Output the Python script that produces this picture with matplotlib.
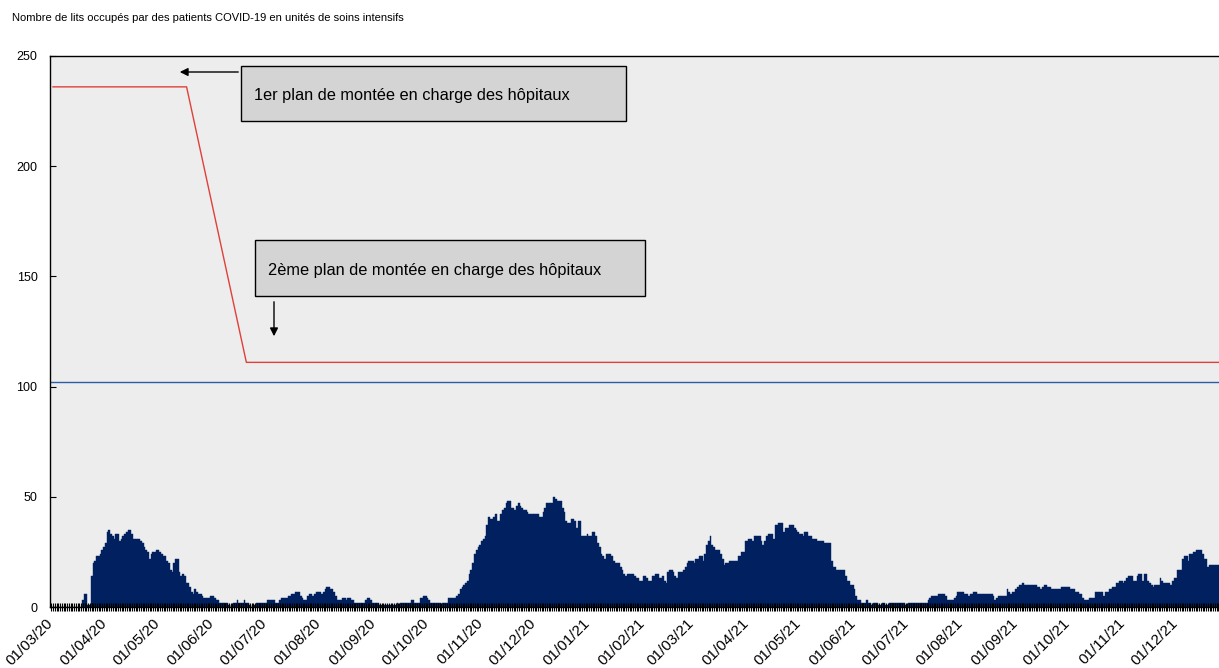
import numpy as np
import pandas as pd
import matplotlib
matplotlib.use("Agg")
import matplotlib.pyplot as plt
import matplotlib.dates as mdates
from matplotlib.patches import Rectangle, FancyArrowPatch

plt.rcParams['font.family'] = ['Liberation Sans', 'DejaVu Sans']

# Lits occupés en soins intensifs, valeurs journalières depuis le 01/03/2020
start = '2020-03-01'
beds_2020 = [
    0, 0, 0, 0, 0, 0, 0, 0, 0, 0, 0, 0, 0, 0, 0, 0, 0, 3, 6, 6, 1, 1,
    14, 20, 21, 23, 23, 24, 26, 27, 29,                                   # mars
    34, 35, 33, 32, 31, 33, 33, 30, 31, 32, 33, 34, 35, 35, 33, 31, 31,
    31, 31, 30, 29, 27, 26, 25, 22, 24, 25, 25, 26, 26,                   # avril
    25, 24, 23, 23, 21, 20, 17, 16, 20, 22, 22, 16, 14, 15, 14, 11, 11,
    9, 7, 6, 8, 7, 6, 6, 5, 4, 4, 4, 4, 5, 5,                             # mai
    4, 3, 3, 2, 2, 2, 2, 2, 1, 0, 1, 2, 2, 3, 2, 2, 2, 3, 2, 2, 1, 0, 0,
    1, 2, 2, 2, 2, 2, 2,                                                  # juin
    3, 3, 3, 3, 3, 2, 2, 3, 4, 4, 4, 4, 5, 5, 6, 6, 7, 7, 7, 5, 4, 3, 3,
    5, 6, 6, 5, 6, 7, 7, 7,                                               # juillet
    6, 7, 8, 9, 9, 8, 8, 7, 5, 3, 3, 3, 4, 4, 3, 4, 4, 3, 3, 2, 2, 2, 2,
    2, 2, 3, 4, 4, 3, 2, 2,                                               # août
    2, 2, 1, 1, 1, 1, 1, 1, 1, 1, 1, 1, 2, 1, 2, 2, 2, 2, 2, 2, 3, 3, 2,
    2, 2, 4, 4, 5, 5, 4,                                                  # septembre
    3, 2, 2, 2, 2, 2, 2, 1, 2, 2, 2, 4, 4, 4, 4, 4, 5, 6, 8, 9, 10, 11,
    12, 15, 17, 20, 24, 26, 27, 28, 30,                                   # octobre
    31, 32, 37, 41, 40, 40, 41, 42, 39, 39, 42, 44, 45, 47, 48, 48, 45,
    45, 44, 46, 47, 46, 45, 44, 44, 43, 42, 42, 42, 42,                   # novembre
    42, 42, 41, 41, 43, 45, 47, 47, 47, 47, 50, 49, 48, 48, 48, 45, 43,
    39, 38, 38, 40, 40, 39, 36, 39, 39, 32, 32, 32, 33, 32,               # décembre
]
beds_2021 = [
    32, 34, 34, 32, 29, 27, 24, 23, 22, 24, 24, 24, 23, 21, 20, 20, 20,
    18, 17, 15, 14, 15, 15, 15, 15, 14, 13, 13, 12, 12, 14,               # janvier
    14, 13, 12, 12, 14, 14, 15, 15, 13, 13, 14, 12, 11, 16, 17, 17, 16,
    14, 13, 16, 16, 16, 17, 18, 20, 21, 21, 21,                           # février
    20, 22, 22, 23, 23, 21, 24, 28, 30, 32, 28, 27, 26, 26, 26, 24, 22,
    19, 20, 20, 21, 21, 21, 21, 21, 23, 23, 25, 25, 30, 30,               # mars
    31, 31, 30, 32, 32, 32, 32, 30, 28, 30, 32, 33, 33, 33, 31, 37, 37,
    38, 38, 38, 34, 36, 36, 37, 37, 37, 36, 35, 34, 33,                   # avril
    33, 32, 34, 34, 32, 32, 31, 31, 31, 30, 30, 30, 30, 29, 29, 29, 29,
    21, 18, 18, 17, 17, 17, 17, 17, 14, 12, 12, 10, 10, 8,                # mai
    5, 3, 3, 2, 2, 2, 3, 2, 2, 1, 2, 2, 2, 1, 1, 2, 2, 1, 1, 2, 2, 2, 2,
    2, 2, 2, 2, 2, 1, 1,                                                  # juin
    2, 2, 2, 2, 2, 2, 2, 2, 2, 2, 2, 3, 4, 5, 5, 5, 5, 6, 6, 6, 6, 5, 3,
    3, 3, 3, 4, 5, 7, 7, 7,                                               # juillet
    7, 6, 6, 5, 6, 6, 7, 7, 6, 6, 6, 6, 6, 6, 6, 6, 6, 5, 3, 4, 5, 5, 5,
    5, 5, 8, 7, 6, 7, 7, 8,                                               # août
    9, 10, 10, 11, 10, 10, 10, 10, 10, 10, 10, 9, 9, 8, 9, 10, 10, 9, 9,
    8, 8, 8, 8, 8, 8, 9, 9, 9, 9, 9,                                      # septembre
    8, 8, 8, 7, 7, 6, 6, 4, 3, 3, 3, 4, 4, 4, 7, 7, 7, 7, 7, 5, 7, 7, 8,
    8, 9, 9, 11, 11, 12, 12, 11,                                          # octobre
    12, 13, 14, 14, 14, 12, 12, 14, 15, 15, 12, 15, 15, 12, 11, 10, 9,
    10, 10, 10, 13, 12, 11, 11, 11, 11, 10, 12, 13, 13,                   # novembre
    17, 17, 17, 22, 23, 23, 21, 24, 24, 25, 25, 26, 26, 26, 24, 22, 22,
    18, 19, 19, 19, 19, 19, 19,                                           # décembre
]

# Capacité des plans de montée en charge (ligne rouge) et seuil (ligne bleue)
plan_dates = ['2020-03-01', '2020-05-16', '2020-06-19', '2021-12-24']
plan_beds = [236, 236, 111, 111]
threshold = 102

title = "Nombre de lits occupés par des patients COVID-19 en unités de soins intensifs"
label_plan1 = "1er plan de montée en charge des hôpitaux"
label_plan2 = "2ème plan de montée en charge des hôpitaux"

beds = beds_2020 + beds_2021
days = pd.date_range(start, periods=len(beds), freq='D')

W, H = 1219, 668
fig = plt.figure(figsize=(W / 100, H / 100), dpi=100)
ax = fig.add_axes([50 / W, 1 - 607 / H, 1169 / W, 551 / H])
ax.set_facecolor('#EDEDED')

ax.bar(days, beds, width=1.0, color='#002060', edgecolor='#002060', linewidth=0.3)
ax.plot(pd.to_datetime(plan_dates), plan_beds, color='#E0403A', linewidth=1)
ax.axhline(threshold, color='#2E5DA8', linewidth=1)

d0 = mdates.date2num(pd.Timestamp(start))
ax.set_xlim(d0 - 1.7, d0 + 663.3)
ax.set_ylim(0, 250)
ax.set_yticks(range(0, 251, 50))

ax.xaxis.set_major_locator(mdates.MonthLocator(bymonthday=1))
ax.xaxis.set_major_formatter(mdates.DateFormatter('%d/%m/%y'))
ax.xaxis.set_minor_locator(mdates.DayLocator())
ax.tick_params(axis='x', which='both', direction='inout', length=6, width=0.8, color='black')
ax.tick_params(axis='x', which='major', labelsize=11, pad=9)
for lab in ax.get_xticklabels():
    lab.set_rotation(45)
    lab.set_ha('right')
    lab.set_va('baseline')
    lab.set_rotation_mode('anchor')
ax.tick_params(axis='y', direction='in', length=4, width=0.8, labelsize=9, pad=9)

for side in ['left', 'bottom', 'top']:
    ax.spines[side].set_color('black')
    ax.spines[side].set_linewidth(1)
ax.spines['right'].set_visible(False)

fig.text(12 / W, 1 - 18 / H, title, fontsize=8, va='center', ha='left')


def fx(px):
    return px / W


def fy(py):
    return 1 - py / H


# Encadrés d'annotation
for (x0, y0, x1, y1), txt in [((241, 66, 626, 121), label_plan1),
                               ((255, 240, 645, 296), label_plan2)]:
    fig.patches.append(Rectangle((fx(x0), fy(y1)), fx(x1) - fx(x0), fy(y0) - fy(y1),
                                 transform=fig.transFigure, facecolor='#D4D4D4',
                                 edgecolor='black', linewidth=1, zorder=5))
    fig.text(fx(x0 + 13), fy((y0 + y1) / 2 + 2), txt, fontsize=11.8, va='center',
             ha='left', zorder=6)

fig.add_artist(FancyArrowPatch(
    (fx(241), fy(72)), (fx(177), fy(72)), transform=fig.transFigure,
    arrowstyle='-|>', mutation_scale=12, color='black', linewidth=1))
fig.add_artist(FancyArrowPatch(
    (fx(274), fy(299)), (fx(274), fy(339)), transform=fig.transFigure,
    arrowstyle='-|>', mutation_scale=12, color='black', linewidth=1))

fig.savefig('out.png', dpi=100)
